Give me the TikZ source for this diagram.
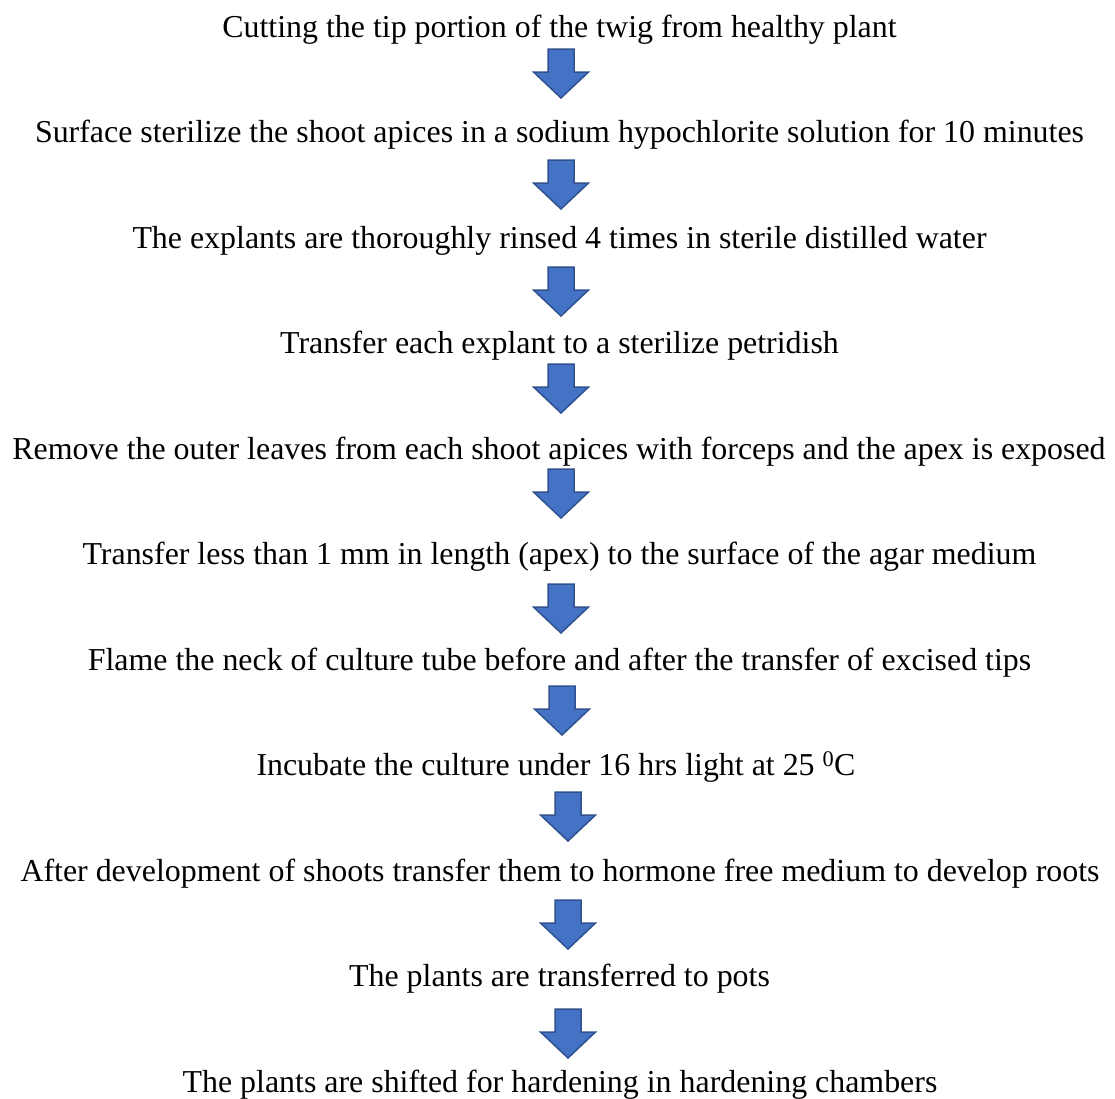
\documentclass[tikz,border=0pt]{standalone}
\usepackage{fontspec}
\setmainfont{Liberation Serif}
\definecolor{arrowfill}{HTML}{4472C4}
\definecolor{arrowline}{HTML}{2F528F}
\tikzset{
  steptext/.style={anchor=base, inner sep=0pt, font=\fontsize{31.9}{38}\selectfont},
  blockarrow/.pic={\draw[fill=arrowfill, draw=arrowline, line width=1.5pt, line join=miter]
    (-13,0) -- (13,0) -- (13,23) -- (27.5,23) -- (0,49) -- (-27.5,23) -- (-13,23) -- cycle;}
}
\begin{document}
\begin{tikzpicture}[x=1pt,y=-1pt]
\useasboundingbox (0,0) rectangle (1115,1098);
\node[steptext] (s1) at (559.5,37) {Cutting the tip portion of the twig from healthy plant};
\node[steptext] (s2) at (559.5,142.5) {Surface sterilize the shoot apices in a sodium hypochlorite solution for 10 minutes};
\node[steptext] (s3) at (559.5,248) {The explants are thoroughly rinsed 4 times in sterile distilled water};
\node[steptext] (s4) at (559.5,353.5) {Transfer each explant to a sterilize petridish};
\node[steptext] (s5) at (559,459) {Remove the outer leaves from each shoot apices with forceps and the apex is exposed};
\node[steptext] (s6) at (559.5,564.5) {Transfer less than 1 mm in length (apex) to the surface of the agar medium};
\node[steptext] (s7) at (559.5,670) {Flame the neck of culture tube before and after the transfer of excised tips};
\node[steptext] (s8) at (556,775.5) {Incubate the culture under 16 hrs light at 25 \textsuperscript{0}C};
\node[steptext] (s9) at (560,881) {After development of shoots transfer them to hormone free medium to develop roots};
\node[steptext] (s10) at (559.5,986.5) {The plants are transferred to pots};
\node[steptext] (s11) at (560,1092) {The plants are shifted for hardening in hardening chambers};
\foreach \ax/\ay [count=\i] in {561/49, 561/160, 561/267, 561/364, 561/469, 561/584, 562/686, 568/792, 568/900, 568/1009}
  \pic (a\i) at (\ax,\ay) {blockarrow};
\end{tikzpicture}
\end{document}
